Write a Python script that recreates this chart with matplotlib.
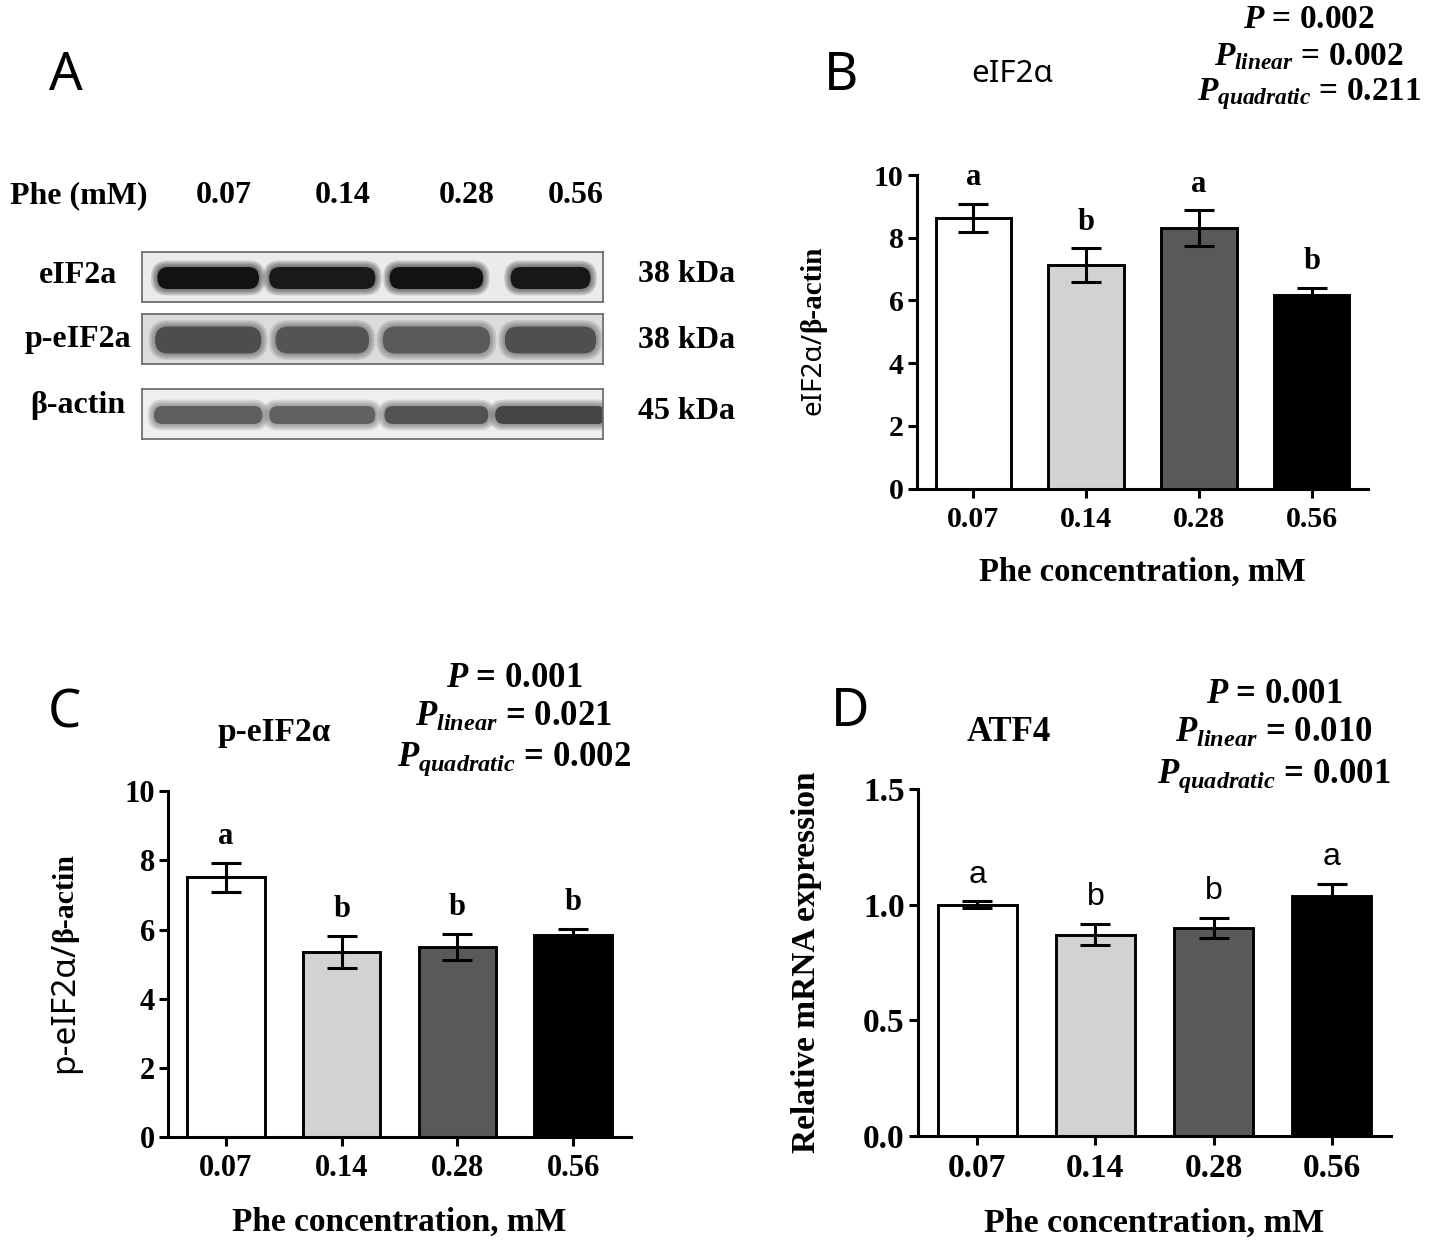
import numpy as np
import matplotlib
matplotlib.use('Agg')
import matplotlib.pyplot as plt
from matplotlib.patches import FancyBboxPatch

plt.rcParams.update({
    'font.family': 'Liberation Serif',
    'font.weight': 'bold',
    'axes.labelweight': 'bold',
    'mathtext.fontset': 'custom',
    'mathtext.rm': 'Liberation Serif:bold',
    'mathtext.it': 'Liberation Serif:italic:bold',
    'mathtext.bf': 'Liberation Serif:bold',
    'axes.linewidth': 2.2,
})

# ---------------- data ----------------
phe_levels = ['0.07', '0.14', '0.28', '0.56']
bar_colors = ['#ffffff', '#d2d2d2', '#595959', '#000000']

eif2a_mean = [8.64, 7.13, 8.30, 6.18]
eif2a_sem = [0.45, 0.53, 0.57, 0.23]
eif2a_letters = ['a', 'b', 'a', 'b']
eif2a_p = ['0.002', '0.002', '0.211']

peif2a_mean = [7.51, 5.36, 5.50, 5.83]
peif2a_sem = [0.43, 0.46, 0.37, 0.18]
peif2a_letters = ['a', 'b', 'b', 'b']
peif2a_p = ['0.001', '0.021', '0.002']

atf4_mean = [1.00, 0.87, 0.90, 1.04]
atf4_sem = [0.015, 0.046, 0.045, 0.052]
atf4_letters = ['a', 'b', 'b', 'a']
atf4_p = ['0.001', '0.010', '0.001']

blot_rows = ['eIF2a', 'p-eIF2a', 'β-actin']
blot_kda = ['38 kDa', '38 kDa', '45 kDa']
blot_bg = ['#ebebeb', '#dcdcdc', '#efefef']
band_darkness = [
    [0.93, 0.90, 0.93, 0.91],
    [0.70, 0.67, 0.65, 0.69],
    [0.63, 0.62, 0.68, 0.73],
]
band_width = [
    [0.89, 0.93, 0.82, 0.70],
    [0.93, 0.82, 0.94, 0.80],
    [0.95, 0.93, 0.91, 0.97],
]
band_height_px = [22, 27, 18]

# ---------------- layout helpers ----------------
W, H = 1429, 1254
fig = plt.figure(figsize=(W / 100, H / 100), dpi=100)


def rect(x0, x1, ytop, ybot):
    return [x0 / W, 1 - ybot / H, (x1 - x0) / W, (ybot - ytop) / H]


def ftext(x, y, s, **kw):
    return fig.text(x / W, 1 - y / H, s, **kw)


SANS_G = 'Noto Sans'
SANS = 'Liberation Sans'

# ---------------- Panel A : western blot ----------------
ftext(66, 76, 'A', family=SANS_G, weight='normal', fontsize=38, ha='center', va='center')
ftext(10, 203, 'Phe (mM)', fontsize=23, ha='left', va='baseline')
for cx, lab in zip([224, 343, 467, 576], phe_levels):
    ftext(cx, 203, lab, fontsize=23, ha='center', va='baseline')

row_boxes = [(252, 302), (314, 364), (389, 439)]
row_label_base = [283, 347, 413]
kda_base = [282, 348, 419]
PX_PER_LANE = (603 - 142) / 4.04
for r, (yt, yb) in enumerate(row_boxes):
    axb = fig.add_axes(rect(142, 603, yt, yb))
    axb.set_xlim(-0.58, 3.46)
    axb.set_ylim(-25, 25)
    axb.set_facecolor(blot_bg[r])
    axb.set_xticks([])
    axb.set_yticks([])
    for sp in axb.spines.values():
        sp.set_linewidth(1.3)
        sp.set_color('#707070')
    h = band_height_px[r]
    for i in range(4):
        w = band_width[r][i]
        g = 1 - band_darkness[r][i]
        col = (g, g, g)
        for k in range(4, 0, -1):
            e = 1.6 * k
            ww = w + 2 * e / PX_PER_LANE
            hh = h + 2 * e
            rs = 0.48 * min(ww, hh / PX_PER_LANE)
            axb.add_patch(FancyBboxPatch((i - ww / 2, -hh / 2 - 1), ww, hh,
                                         boxstyle=f'round,pad=0,rounding_size={rs}',
                                         mutation_aspect=PX_PER_LANE,
                                         facecolor=col, edgecolor='none', alpha=0.16))
        rs = 0.48 * min(w, h / PX_PER_LANE)
        axb.add_patch(FancyBboxPatch((i - w / 2, -h / 2 - 1), w, h,
                                     boxstyle=f'round,pad=0,rounding_size={rs}',
                                     mutation_aspect=PX_PER_LANE,
                                     facecolor=col, edgecolor='none'))
    ftext(78, row_label_base[r], blot_rows[r], fontsize=23, ha='center', va='baseline')
    ftext(638, kda_base[r], blot_kda[r], fontsize=23, ha='left', va='baseline')


# ---------------- bar panels ----------------
def bar_panel(rc, means, sems, letters, ymax, yticks, yfmt, tick_fs, letter_kw, xlabel_fs):
    ax = fig.add_axes(rc)
    x = np.arange(len(phe_levels))
    ax.bar(x, means, width=0.67, color=bar_colors, edgecolor='black', linewidth=2.1, zorder=2)
    ax.errorbar(x, means, yerr=sems, fmt='none', ecolor='black', elinewidth=2.2,
                capsize=10.5, capthick=2.2, zorder=3)
    for xi, m, s, l in zip(x, means, sems, letters):
        ax.annotate(l, (xi, m + s), xytext=(0, 13.5), textcoords='offset points',
                    ha='center', va='baseline', **letter_kw)
    ax.set_xlim(-0.5, 3.5)
    ax.set_ylim(0, ymax)
    ax.set_yticks(yticks)
    ax.set_yticklabels([yfmt.format(v) for v in yticks])
    ax.set_xticks(x)
    ax.set_xticklabels(phe_levels)
    for side in ('top', 'right'):
        ax.spines[side].set_visible(False)
    ax.tick_params(length=6.5, width=2.2, labelsize=tick_fs, direction='out')
    ax.tick_params(axis='x', pad=6)
    ax.tick_params(axis='y', pad=3)
    ax.set_xlabel('Phe concentration, mM', fontsize=xlabel_fs, fontweight='bold', labelpad=17)
    return ax


def pblock(xc, baselines, pv, fs):
    labels = [r'$P$ = ', r'$P_{linear}$ = ', r'$P_{quadratic}$ = ']
    for yb, lab, v in zip(baselines, labels, pv):
        ftext(xc, yb, lab + v, fontsize=fs, ha='center', va='baseline')


serif_letters = dict(fontsize=22, family='Liberation Serif', weight='bold')
sans_letters = dict(fontsize=23, family=SANS, weight='normal')

# Panel B
axB = bar_panel(rect(917, 1368, 175, 488.5), eif2a_mean, eif2a_sem, eif2a_letters,
                10, [0, 2, 4, 6, 8, 10], '{:g}', 21.5, serif_letters, 23.5)
ftext(841, 77, 'B', family=SANS_G, weight='normal', fontsize=38, ha='center', va='center')
ftext(1012, 74, 'eIF2α', family=SANS_G, weight='normal', fontsize=22.5, ha='center', va='center')
pblock(1309, [28, 65, 100], eif2a_p, 24)
ftext(813, 332, 'eIF2α/', family=SANS_G, weight='bold', fontsize=20, rotation=90, ha='center', va='top')
ftext(813, 332, 'β-actin', fontsize=21, rotation=90, ha='center', va='bottom')

# Panel C
axC = bar_panel(rect(168, 631, 791.3, 1137), peif2a_mean, peif2a_sem, peif2a_letters,
                10, [0, 2, 4, 6, 8, 10], '{:g}', 22, serif_letters, 24)
ftext(64, 714, 'C', family=SANS_G, weight='normal', fontsize=38, ha='center', va='center')
ftext(274, 733, 'p-eIF2α', fontsize=24, ha='center', va='center')
pblock(514, [687, 726, 766], peif2a_p, 25)
ftext(65, 942, 'p-eIF2α/', family=SANS_G, weight='bold', fontsize=24, rotation=90, ha='center', va='top')
ftext(65, 942, 'β-actin', fontsize=21.5, rotation=90, ha='center', va='bottom')

# Panel D
axD = bar_panel(rect(918, 1391, 789.3, 1135.8), atf4_mean, atf4_sem, atf4_letters,
                1.5, [0.0, 0.5, 1.0, 1.5], '{:.1f}', 24, sans_letters, 24.5)
ftext(850, 712, 'D', family=SANS_G, weight='normal', fontsize=38, ha='center', va='center')
ftext(1009, 732, 'ATF4', fontsize=25, ha='center', va='center')
pblock(1274, [703, 742, 783], atf4_p, 25)
ftext(806, 962, 'Relative mRNA expression', fontsize=24, rotation=90, ha='center', va='center')

fig.savefig('out.png', dpi=100, facecolor='white')
